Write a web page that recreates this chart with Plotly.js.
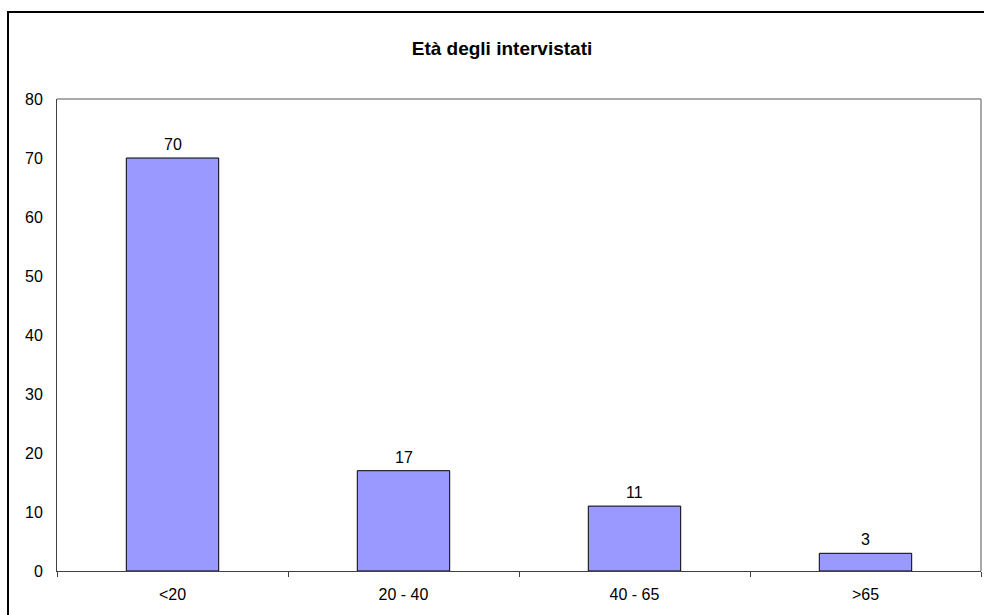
<!DOCTYPE html>
<html>
<head>
<meta charset="utf-8">
<script src="https://cdn.plot.ly/plotly-3.0.1.min.js"></script>
<style>
  html, body { margin: 0; padding: 0; background: #fff; }
  #chart { width: 984px; height: 615px; }
</style>
</head>
<body>
<div id="chart"></div>
<script>
// Age groups of the people interviewed
const ageGroups = ['<20', '20 - 40', '40 - 65', '>65'];
const respondents = [70, 17, 11, 3];
const yTicks = [0, 10, 20, 30, 40, 50, 60, 70, 80];

const font = 'Liberation Sans, Arial, sans-serif';

const bars = {
  type: 'bar',
  x: ageGroups,
  y: respondents,
  width: 0.4,
  marker: { color: '#9999ff', line: { color: '#000000', width: 1 } },
  hoverinfo: 'x+y'
};

// value labels sitting just above each bar
const labels = ageGroups.map((g, i) => ({
  x: g, y: respondents[i], xref: 'x', yref: 'y',
  text: String(respondents[i]), showarrow: false,
  yanchor: 'bottom', yshift: 3,
  font: { family: font, size: 16, color: '#000' }
}));

// plot area: x 57..981, y 99..571 in page pixels
const L = 57, R = 981, T = 99, B = 571;
const W = R - L, H = B - T;
const px = v => (v - L) / W;
const py = v => (B - v) / H;

const layout = {
  width: 984, height: 615,
  margin: { l: L, r: 984 - R, t: T, b: 615 - B, pad: 0 },
  paper_bgcolor: '#ffffff',
  plot_bgcolor: '#ffffff',
  showlegend: false,
  title: {
    text: '<b>Età degli intervistati</b>',
    font: { family: font, size: 19, color: '#000' },
    x: 502 / 984, xref: 'container', xanchor: 'center',
    y: 1 - 48 / 615, yref: 'container', yanchor: 'middle'
  },
  xaxis: {
    type: 'category',
    range: [-0.5, ageGroups.length - 0.5],
    tickson: 'boundaries',
    ticks: 'outside', ticklen: 5, tickcolor: '#404040', tickwidth: 1,
    showline: true, linecolor: '#404040', linewidth: 1,
    showgrid: false, zeroline: false,
    ticklabelstandoff: 9,
    tickfont: { family: font, size: 16, color: '#000' },
    fixedrange: true
  },
  yaxis: {
    range: [0, 80],
    tickvals: yTicks,
    ticktext: yTicks.map(String),
    ticks: '',
    showline: true, linecolor: '#404040', linewidth: 1,
    showgrid: false, zeroline: false,
    ticklabelstandoff: 10,
    tickfont: { family: font, size: 16, color: '#000' },
    fixedrange: true
  },
  shapes: [
    // grey top and right edges of the plot area
    { type: 'line', xref: 'paper', yref: 'paper', x0: 0, x1: 1, y0: 1, y1: 1,
      line: { color: '#8c8c8c', width: 1.5 }, layer: 'above' },
    { type: 'line', xref: 'paper', yref: 'paper', x0: 1, x1: 1, y0: 0, y1: 1,
      line: { color: '#8c8c8c', width: 1.5 }, layer: 'above' },
    // black outer frame of the chart object
    { type: 'rect', xref: 'paper', yref: 'paper',
      x0: px(8), x1: px(1100), y0: py(700), y1: py(12),
      line: { color: '#000000', width: 2 }, fillcolor: 'rgba(0,0,0,0)', layer: 'above' }
  ],
  annotations: labels
};

Plotly.newPlot('chart', [bars], layout, { displayModeBar: false, staticPlot: true });
</script>
</body>
</html>
